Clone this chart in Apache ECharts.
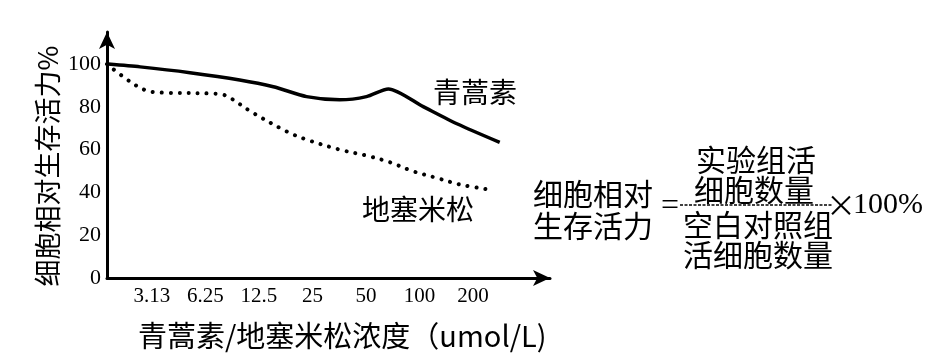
<!DOCTYPE html>
<html>
<head>
<meta charset="utf-8">
<script src="https://cdn.jsdelivr.net/npm/echarts@6/dist/echarts.min.js"></script>
<style>html,body{margin:0;padding:0;background:#fff;}#c{width:948px;height:361px;}</style>
</head>
<body>
<div id="c"></div>
<script>
// ---- data ----
var xLabels = ['3.13', '6.25', '12.5', '25', '50', '100', '200'];
var xLabelIndex = [1, 2, 3, 4, 5, 6, 7];
var yLabels = [0, 20, 40, 60, 80, 100];
// 青蒿素 (solid) : [position on concentration axis, relative viability %]
var qhsX = [0.18, 0.78, 1.71, 2.64, 3.27, 3.89, 4.51, 5.01, 5.42, 6.07, 6.70, 7.50];
var qhsY = [100, 98.7, 96.0, 92.6, 89.4, 84.8, 83.3, 84.8, 88.4, 80.1, 72.1, 63.4];
// 地塞米松 (dotted)
var dsmX = [0.16, 0.59, 0.90, 1.15, 2.27, 2.46, 2.89, 3.52, 3.89, 4.51, 5.01, 5.45, 5.88, 6.32, 6.76, 7.37];
var dsmY = [100, 91.8, 87.6, 86.7, 86.0, 84.2, 77.2, 68.5, 64.7, 60.0, 57.2, 54.1, 49.9, 46.8, 43.7, 41.1];
var seriesNames = ['青蒿素', '地塞米松'];
var yName = '细胞相对生存活力%';
var xName = '青蒿素/地塞米松浓度（umol/L)';

function pairs(xs, ys) { return xs.map(function (x, i) { return [x, ys[i]]; }); }

var CJK = '"Noto Sans CJK SC", sans-serif';
var SERIF = '"Liberation Serif", "DejaVu Serif", serif';

var chart = echarts.init(document.getElementById('c'));
chart.setOption({
  animation: false,
  backgroundColor: '#fff',
  grid: { left: 107, right: 398, top: 32, bottom: 83 },
  xAxis: {
    type: 'value', min: 0.16, max: 8.44,
    axisLine: { lineStyle: { color: '#000', width: 3 }, symbol: ['none', 'arrow'], symbolSize: [12, 17] },
    axisTick: { show: false },
    splitLine: { show: false },
    axisLabel: {
      customValues: xLabelIndex,
      formatter: function (v) { return xLabels[Math.round(v) - 1] || ''; },
      color: '#000', fontFamily: SERIF, fontSize: 21, margin: 8
    }
  },
  yAxis: {
    type: 'value', min: 0, max: 115,
    axisLine: { show: true, lineStyle: { color: '#000', width: 3 }, symbol: ['none', 'arrow'], symbolSize: [12, 17] },
    axisTick: { show: false },
    splitLine: { show: false },
    axisLabel: {
      customValues: yLabels,
      color: '#000', fontFamily: SERIF, fontSize: 22, margin: 6
    }
  },
  series: [
    {
      name: seriesNames[0], type: 'line', data: pairs(qhsX, qhsY),
      smooth: 0.25, showSymbol: false,
      lineStyle: { color: '#000', width: 3.5 }
    },
    {
      name: seriesNames[1], type: 'line', data: pairs(dsmX, dsmY),
      smooth: 0.35, showSymbol: false,
      lineStyle: { color: '#000', width: 4, type: [0.01, 9], cap: 'round' }
    }
  ],
  graphic: [
    { type: 'text', x: 48, y: 166, rotation: Math.PI / 2,
      style: { text: yName, font: '27px ' + CJK, fill: '#000', align: 'center', verticalAlign: 'middle' } },
    { type: 'text', x: 138, y: 336,
      style: { text: xName, font: '29px ' + CJK, fill: '#000', align: 'left', verticalAlign: 'middle' } },
    { type: 'text', x: 433, y: 92,
      style: { text: seriesNames[0], font: '28px ' + CJK, fill: '#000', align: 'left', verticalAlign: 'middle' } },
    { type: 'text', x: 362, y: 209,
      style: { text: seriesNames[1], font: '28px ' + CJK, fill: '#000', align: 'left', verticalAlign: 'middle' } },
    // formula
    { type: 'text', x: 533, y: 194,
      style: { text: '细胞相对', font: '30px ' + CJK, fill: '#000', align: 'left', verticalAlign: 'middle' } },
    { type: 'text', x: 533, y: 226,
      style: { text: '生存活力', font: '30px ' + CJK, fill: '#000', align: 'left', verticalAlign: 'middle' } },
    { type: 'text', x: 670, y: 207,
      style: { text: '=', font: '32px ' + SERIF, fill: '#000', align: 'center', verticalAlign: 'middle' } },
    { type: 'text', x: 756, y: 160,
      style: { text: '实验组活', font: '30px ' + CJK, fill: '#000', align: 'center', verticalAlign: 'middle' } },
    { type: 'text', x: 754, y: 190,
      style: { text: '细胞数量', font: '30px ' + CJK, fill: '#000', align: 'center', verticalAlign: 'middle' } },
    { type: 'line', shape: { x1: 680, y1: 205, x2: 832, y2: 205 },
      style: { stroke: '#000', lineWidth: 1.5, lineDash: [3, 1.5] } },
    { type: 'text', x: 758, y: 225,
      style: { text: '空白对照组', font: '30px ' + CJK, fill: '#000', align: 'center', verticalAlign: 'middle' } },
    { type: 'text', x: 758, y: 255,
      style: { text: '活细胞数量', font: '30px ' + CJK, fill: '#000', align: 'center', verticalAlign: 'middle' } },
    { type: 'text', x: 841, y: 205,
      style: { text: '×', font: '30px ' + CJK, fill: '#000', align: 'center', verticalAlign: 'middle' } },
    { type: 'text', x: 853, y: 205,
      style: { text: '100%', font: '30px ' + SERIF, fill: '#000', align: 'left', verticalAlign: 'middle' } }
  ]
});
</script>
</body>
</html>
